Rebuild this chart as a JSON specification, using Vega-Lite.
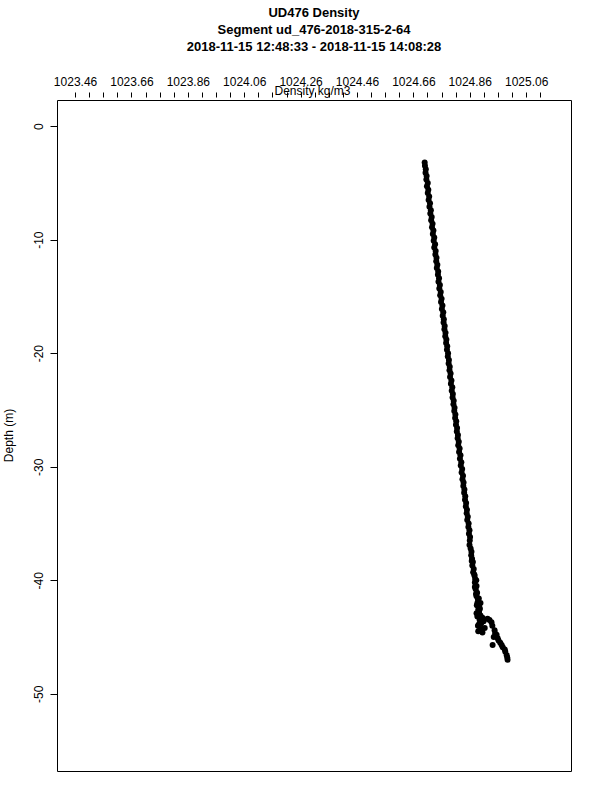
{
 "$schema": "https://vega.github.io/schema/vega-lite/v6.json",
 "width": 514,
 "height": 671,
 "autosize": {"type": "none"},
 "padding": {"left": 57, "top": 100, "right": 29, "bottom": 29},
 "background": "white",
 "title": {"text": ["UD476 Density", "Segment ud_476-2018-315-2-64", "2018-11-15 12:48:33 - 2018-11-15 14:08:28"], "anchor": "middle", "frame": "group", "fontSize": 13, "font": "Liberation Sans", "fontWeight": "bold", "color": "black", "lineHeight": 17, "baseline": "bottom", "offset": 8},
 "config": {
  "view": {"stroke": "black", "strokeWidth": 1},
  "axis": {"grid": false, "domain": false, "tickColor": "black", "labelColor": "black", "titleColor": "black", "labelFont": "Liberation Sans", "titleFont": "Liberation Sans", "labelFontSize": 12, "titleFontSize": 12, "titleFontWeight": "normal"}
 },
 "data": {"values": [
  {"density": 1024.700, "depth": -3.2}, {"density": 1024.701, "depth": -3.5}, {"density": 1024.704, "depth": -3.8}, {"density": 1024.703, "depth": -4.1},
  {"density": 1024.707, "depth": -4.4}, {"density": 1024.706, "depth": -4.7}, {"density": 1024.711, "depth": -5.0}, {"density": 1024.708, "depth": -5.3},
  {"density": 1024.713, "depth": -5.6}, {"density": 1024.711, "depth": -5.9}, {"density": 1024.716, "depth": -6.2}, {"density": 1024.714, "depth": -6.5},
  {"density": 1024.719, "depth": -6.8}, {"density": 1024.717, "depth": -7.1}, {"density": 1024.722, "depth": -7.4}, {"density": 1024.720, "depth": -7.7},
  {"density": 1024.725, "depth": -8.0}, {"density": 1024.723, "depth": -8.3}, {"density": 1024.728, "depth": -8.6}, {"density": 1024.726, "depth": -8.9},
  {"density": 1024.731, "depth": -9.2}, {"density": 1024.729, "depth": -9.5}, {"density": 1024.734, "depth": -9.8}, {"density": 1024.732, "depth": -10.1},
  {"density": 1024.737, "depth": -10.4}, {"density": 1024.734, "depth": -10.7}, {"density": 1024.739, "depth": -11.0}, {"density": 1024.738, "depth": -11.3},
  {"density": 1024.742, "depth": -11.6}, {"density": 1024.741, "depth": -11.9}, {"density": 1024.745, "depth": -12.2}, {"density": 1024.743, "depth": -12.5},
  {"density": 1024.748, "depth": -12.8}, {"density": 1024.747, "depth": -13.1}, {"density": 1024.751, "depth": -13.4}, {"density": 1024.749, "depth": -13.7},
  {"density": 1024.754, "depth": -14.0}, {"density": 1024.752, "depth": -14.3}, {"density": 1024.757, "depth": -14.6}, {"density": 1024.755, "depth": -14.9},
  {"density": 1024.760, "depth": -15.2}, {"density": 1024.758, "depth": -15.5}, {"density": 1024.763, "depth": -15.8}, {"density": 1024.761, "depth": -16.1},
  {"density": 1024.766, "depth": -16.4}, {"density": 1024.764, "depth": -16.7}, {"density": 1024.768, "depth": -17.0}, {"density": 1024.767, "depth": -17.3},
  {"density": 1024.771, "depth": -17.6}, {"density": 1024.770, "depth": -17.9}, {"density": 1024.774, "depth": -18.2}, {"density": 1024.773, "depth": -18.5},
  {"density": 1024.777, "depth": -18.8}, {"density": 1024.776, "depth": -19.1}, {"density": 1024.780, "depth": -19.4}, {"density": 1024.779, "depth": -19.7},
  {"density": 1024.783, "depth": -20.0}, {"density": 1024.782, "depth": -20.3}, {"density": 1024.786, "depth": -20.6}, {"density": 1024.785, "depth": -20.9},
  {"density": 1024.789, "depth": -21.2}, {"density": 1024.788, "depth": -21.5}, {"density": 1024.792, "depth": -21.8}, {"density": 1024.790, "depth": -22.1},
  {"density": 1024.795, "depth": -22.4}, {"density": 1024.793, "depth": -22.7}, {"density": 1024.798, "depth": -23.0}, {"density": 1024.796, "depth": -23.3},
  {"density": 1024.800, "depth": -23.6}, {"density": 1024.799, "depth": -23.9}, {"density": 1024.803, "depth": -24.2}, {"density": 1024.802, "depth": -24.5},
  {"density": 1024.806, "depth": -24.8}, {"density": 1024.805, "depth": -25.1}, {"density": 1024.809, "depth": -25.4}, {"density": 1024.808, "depth": -25.7},
  {"density": 1024.812, "depth": -26.0}, {"density": 1024.811, "depth": -26.3}, {"density": 1024.815, "depth": -26.6}, {"density": 1024.814, "depth": -26.9},
  {"density": 1024.818, "depth": -27.2}, {"density": 1024.817, "depth": -27.5}, {"density": 1024.821, "depth": -27.8}, {"density": 1024.819, "depth": -28.1},
  {"density": 1024.824, "depth": -28.4}, {"density": 1024.822, "depth": -28.7}, {"density": 1024.827, "depth": -29.0}, {"density": 1024.825, "depth": -29.3},
  {"density": 1024.830, "depth": -29.6}, {"density": 1024.828, "depth": -29.9}, {"density": 1024.833, "depth": -30.2}, {"density": 1024.831, "depth": -30.5},
  {"density": 1024.836, "depth": -30.8}, {"density": 1024.834, "depth": -31.1}, {"density": 1024.838, "depth": -31.4}, {"density": 1024.837, "depth": -31.7},
  {"density": 1024.841, "depth": -32.0}, {"density": 1024.840, "depth": -32.3}, {"density": 1024.844, "depth": -32.6}, {"density": 1024.843, "depth": -32.9},
  {"density": 1024.847, "depth": -33.2}, {"density": 1024.846, "depth": -33.5}, {"density": 1024.850, "depth": -33.8}, {"density": 1024.849, "depth": -34.1},
  {"density": 1024.853, "depth": -34.4}, {"density": 1024.851, "depth": -34.7}, {"density": 1024.856, "depth": -35.0}, {"density": 1024.855, "depth": -35.3},
  {"density": 1024.859, "depth": -35.6}, {"density": 1024.857, "depth": -35.9}, {"density": 1024.861, "depth": -36.2}, {"density": 1024.860, "depth": -36.5},
  {"density": 1024.859, "depth": -36.9}, {"density": 1024.863, "depth": -37.2}, {"density": 1024.866, "depth": -37.5}, {"density": 1024.865, "depth": -37.8},
  {"density": 1024.868, "depth": -38.1}, {"density": 1024.871, "depth": -38.4}, {"density": 1024.869, "depth": -38.7}, {"density": 1024.874, "depth": -39.0},
  {"density": 1024.872, "depth": -39.3}, {"density": 1024.877, "depth": -39.6}, {"density": 1024.879, "depth": -39.9}, {"density": 1024.878, "depth": -40.2},
  {"density": 1024.884, "depth": -40.5}, {"density": 1024.881, "depth": -40.8}, {"density": 1024.886, "depth": -41.1}, {"density": 1024.884, "depth": -41.4},
  {"density": 1024.889, "depth": -41.7}, {"density": 1024.887, "depth": -42.0}, {"density": 1024.893, "depth": -42.3}, {"density": 1024.890, "depth": -42.6},
  {"density": 1024.884, "depth": -42.9}, {"density": 1024.898, "depth": -43.1}, {"density": 1024.905, "depth": -43.3}, {"density": 1024.923, "depth": -43.4},
  {"density": 1024.937, "depth": -43.7}, {"density": 1024.892, "depth": -43.9}, {"density": 1024.913, "depth": -44.2}, {"density": 1024.896, "depth": -44.4},
  {"density": 1024.948, "depth": -44.4}, {"density": 1024.905, "depth": -44.6}, {"density": 1024.959, "depth": -45.1}, {"density": 1024.941, "depth": -45.7},
  {"density": 1024.973, "depth": -45.7}, {"density": 1024.984, "depth": -46.1}, {"density": 1024.991, "depth": -46.6}, {"density": 1024.994, "depth": -47.0},
  {"density": 1024.883, "depth": -40.0}, {"density": 1024.878, "depth": -40.6}, {"density": 1024.882, "depth": -41.2}, {"density": 1024.892, "depth": -41.6},
  {"density": 1024.885, "depth": -42.2}, {"density": 1024.896, "depth": -42.5}, {"density": 1024.893, "depth": -42.8}, {"density": 1024.890, "depth": -43.0},
  {"density": 1024.887, "depth": -43.2}, {"density": 1024.895, "depth": -43.5}, {"density": 1024.909, "depth": -43.6}, {"density": 1024.900, "depth": -43.8},
  {"density": 1024.889, "depth": -44.0}, {"density": 1024.902, "depth": -44.3}, {"density": 1024.890, "depth": -44.5}, {"density": 1024.955, "depth": -44.8},
  {"density": 1024.945, "depth": -45.0}, {"density": 1024.962, "depth": -45.3}, {"density": 1024.968, "depth": -45.5}, {"density": 1024.977, "depth": -45.9},
  {"density": 1024.986, "depth": -46.3}, {"density": 1024.993, "depth": -46.8}, {"density": 1024.930, "depth": -43.5}, {"density": 1024.940, "depth": -44.0},
  {"density": 1024.950, "depth": -44.7}, {"density": 1024.898, "depth": -42.0}, {"density": 1024.876, "depth": -39.5}, {"density": 1024.867, "depth": -38.3}
 ]},
 "mark": {"type": "circle", "size": 36, "color": "black", "opacity": 1},
 "encoding": {
  "x": {"field": "density", "type": "quantitative",
   "scale": {"domain": [1023.396, 1025.219], "nice": false, "zero": false},
   "axis": {"orient": "top", "title": "Density kg/m3",
    "values": [1023.46, 1023.51, 1023.56, 1023.61, 1023.66, 1023.71, 1023.76, 1023.81, 1023.86, 1023.91, 1023.96, 1024.01, 1024.06, 1024.11, 1024.16, 1024.21, 1024.26, 1024.31, 1024.36, 1024.41, 1024.46, 1024.51, 1024.56, 1024.61, 1024.66, 1024.71, 1024.76, 1024.81, 1024.86, 1024.91, 1024.96, 1025.01, 1025.06, 1025.11],
    "labelExpr": "round((datum.value - 1023.46) * 20) % 4 == 0 ? format(datum.value, '.2f') : ''",
    "offset": 3, "tickSize": 5, "labelPadding": 7, "labelBaseline": "alphabetic",
    "labelOverlap": false, "labelFlush": false, "labelBound": false,
    "titleX": 255, "titleY": -3, "titleAlign": "center", "titleBaseline": "alphabetic"}},
  "y": {"field": "depth", "type": "quantitative",
   "scale": {"domain": [-56.8, 2.3], "nice": false, "zero": false},
   "axis": {"title": "Depth (m)", "values": [0, -10, -20, -30, -40, -50],
    "labelExpr": "datum.value + ''", "labelAngle": -90, "labelAlign": "center", "labelBaseline": "alphabetic",
    "tickSize": 7, "labelPadding": 8, "labelOverlap": false, "labelFlush": false, "labelBound": false,
    "titleAngle": -90, "titleX": -45, "titleY": 335, "titleAlign": "center", "titleBaseline": "alphabetic"}}
 }
}
